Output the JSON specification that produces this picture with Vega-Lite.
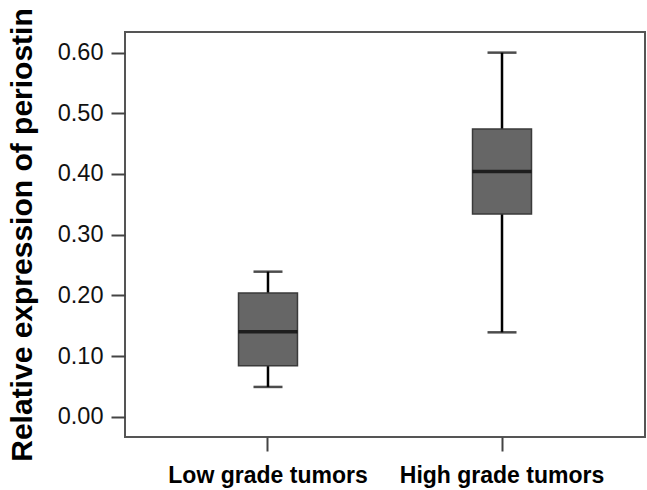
{
  "$schema": "https://vega.github.io/schema/vega-lite/v6.json",
  "width": 520,
  "height": 405,
  "autosize": "none",
  "padding": {"left": 125, "top": 32, "right": 2, "bottom": 53},
  "background": "white",
  "config": {
    "view": {"stroke": "#555555", "strokeWidth": 2},
    "font": "Liberation Sans"
  },
  "data": {
    "values": [
      {"group": "Low grade tumors", "min": 0.049, "q1": 0.084, "median": 0.140, "q3": 0.204, "max": 0.239},
      {"group": "High grade tumors", "min": 0.139, "q1": 0.334, "median": 0.404, "q3": 0.474, "max": 0.600}
    ]
  },
  "encoding": {
    "x": {
      "field": "group",
      "type": "nominal",
      "sort": ["Low grade tumors", "High grade tumors"],
      "scale": {"paddingInner": 0.748, "paddingOuter": 0.485},
      "axis": {
        "title": null,
        "labelAngle": 0,
        "labelLimit": 0,
        "labelFont": "Liberation Sans",
        "labelFontSize": 23,
        "labelFontWeight": "bold",
        "labelColor": "#000000",
        "labelPadding": 13,
        "tickSize": 14,
        "tickWidth": 2,
        "tickColor": "#444444",
        "domain": false,
        "grid": false
      }
    }
  },
  "layer": [
    {
      "mark": {"type": "rule", "color": "#000000", "strokeWidth": 2.5},
      "encoding": {
        "y": {
          "field": "min",
          "type": "quantitative",
          "scale": {"domain": [-0.0335, 0.634], "nice": false, "zero": false},
          "axis": {
            "title": "Relative expression of periostin",
            "titleFont": "Liberation Sans",
            "titleFontSize": 30,
            "titleFontWeight": "bold",
            "titleColor": "#000000",
            "titlePadding": 20,
            "values": [0, 0.1, 0.2, 0.3, 0.4, 0.5, 0.6],
            "format": ".2f",
            "labelFont": "Liberation Sans",
            "labelFontSize": 23.5,
            "labelColor": "#111111",
            "labelPadding": 8,
            "tickSize": 14,
            "tickWidth": 2,
            "tickColor": "#444444",
            "domain": false,
            "grid": false
          }
        },
        "y2": {"field": "max"}
      }
    },
    {
      "mark": {"type": "bar", "color": "#666666", "stroke": "#3a3a3a", "strokeWidth": 1.5},
      "encoding": {
        "y": {"field": "q1", "type": "quantitative"},
        "y2": {"field": "q3"}
      }
    },
    {
      "mark": {"type": "tick", "color": "#000000", "size": 59, "thickness": 3.5},
      "encoding": {
        "y": {"field": "median", "type": "quantitative"}
      }
    },
    {
      "mark": {"type": "tick", "color": "#000000", "size": 29, "thickness": 2.5},
      "encoding": {
        "y": {"field": "min", "type": "quantitative"}
      }
    },
    {
      "mark": {"type": "tick", "color": "#000000", "size": 29, "thickness": 2.5},
      "encoding": {
        "y": {"field": "max", "type": "quantitative"}
      }
    }
  ]
}
